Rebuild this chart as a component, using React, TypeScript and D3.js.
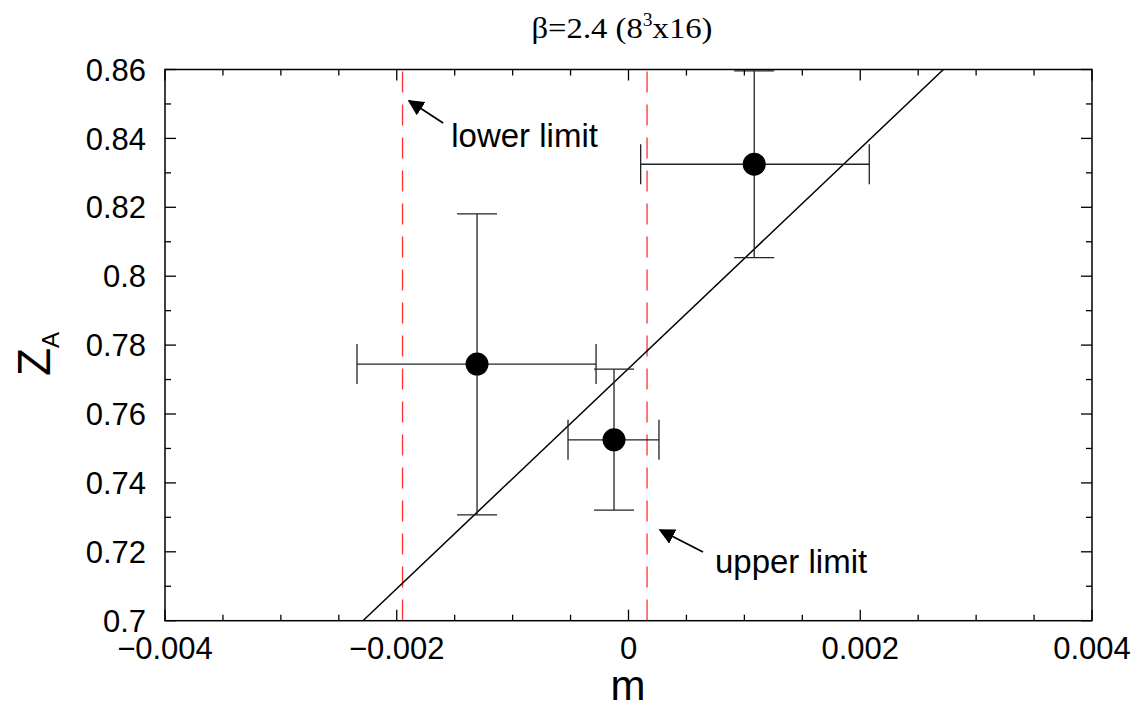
import React from "react";
import * as d3 from "d3";

const pointsX = [-0.001307, -0.000125, 0.001085];
const pointsY = [0.7745, 0.7525, 0.8325];
const xErrLow = [-0.002343, -0.000522, 0.000105];
const xErrHigh = [-0.00028, 0.000263, 0.002078];
const yErrLow = [0.7307, 0.7321, 0.8054];
const yErrHigh = [0.8181, 0.773, 0.8596];

const fitSlope = 31.94;
const fitIntercept = 0.7732;

const limitNames = ["lower limit", "upper limit"];
const limitX = [-0.00195, 0.00016];
const arrowTailX = [-0.0016, 0.000643];
const arrowTailY = [0.8445, 0.71994];
const arrowTipX = [-0.001894, 0.000272];
const arrowTipY = [0.8509, 0.72633];
const labelX = [-0.00153, 0.000746];
const labelY = [0.8374, 0.71385];

const xTickLabels = [-0.004, -0.002, 0, 0.002, 0.004];
const yTickLabels = [0.7, 0.72, 0.74, 0.76, 0.78, 0.8, 0.82, 0.84, 0.86];

const W = 1141;
const H = 707;
const L = 165, R = 1092, T = 69.5, B = 620.7;

export default function App() {
  const x = d3.scaleLinear().domain([-0.004, 0.004]).range([L, R]);
  const y = d3.scaleLinear().domain([0.7, 0.86]).range([B, T]);
  const sans = "'Liberation Sans', Arial, Helvetica, sans-serif";

  const xMinor = d3.range(-0.004, 0.00401, 0.0005);
  const yMinor = d3.range(0.7, 0.8601, 0.01);
  const isMajorX = (v: number) => Math.abs(Math.round(v / 0.002) * 0.002 - v) < 1e-7;
  const isMajorY = (v: number) => Math.abs(Math.round(v / 0.02) * 0.02 - v) < 1e-6;

  const fmtX = (v: number) => (Math.abs(v) < 1e-9 ? "0" : (v < 0 ? "\u2212" : "") + Math.abs(v).toFixed(3));
  const fmtY = (v: number) => {
    const s = v.toFixed(2);
    return s.endsWith("0") ? s.replace(/0$/, "").replace(/\.$/, "") : s;
  };

  const fitLine = d3.line<number>()
    .x((yy) => x((yy - fitIntercept) / fitSlope))
    .y((yy) => y(yy));

  const capHalf = 20;
  const eb = "#222";

  return (
    <svg width={W} height={H} style={{ position: "absolute", left: 0, top: 0, background: "#fff" }}>
      <defs>
        <marker id="arr" viewBox="0 0 10 10" refX="9" refY="5" markerWidth="16" markerHeight="16" markerUnits="userSpaceOnUse" orient="auto">
          <path d="M0,0 L10,5 L0,10 Z" fill="#000" />
        </marker>
        <clipPath id="plot">
          <rect x={L} y={T} width={R - L} height={B - T} />
        </clipPath>
      </defs>

      {/* title */}
      <text x={622} y={38} textAnchor="middle" fontFamily="'Liberation Serif', 'Times New Roman', serif" fontSize={30} textLength={181} lengthAdjust="spacingAndGlyphs">
        β=2.4 (8<tspan dy={-12} fontSize={18}>3</tspan><tspan dy={12}>x16)</tspan>
      </text>

      {/* red dashed limits */}
      {limitX.map((v, i) => (
        <line key={"lim" + i} x1={x(v)} x2={x(v)} y1={T} y2={B} stroke="#ff3030" strokeWidth={1.3} strokeDasharray="21,12" strokeDashoffset={-2} />
      ))}

      {/* fit line */}
      <path d={fitLine([0.7, 0.86]) || ""} stroke="#000" strokeWidth={1.5} fill="none" clipPath="url(#plot)" />

      {/* error bars */}
      {pointsX.map((px, i) => (
        <g key={"eb" + i} stroke={eb} strokeWidth={1.3}>
          <line x1={x(xErrLow[i])} x2={x(xErrHigh[i])} y1={y(pointsY[i])} y2={y(pointsY[i])} />
          <line x1={x(xErrLow[i])} x2={x(xErrLow[i])} y1={y(pointsY[i]) - capHalf} y2={y(pointsY[i]) + capHalf} />
          <line x1={x(xErrHigh[i])} x2={x(xErrHigh[i])} y1={y(pointsY[i]) - capHalf} y2={y(pointsY[i]) + capHalf} />
          <line x1={x(px)} x2={x(px)} y1={y(yErrLow[i])} y2={y(yErrHigh[i])} />
          <line x1={x(px) - capHalf} x2={x(px) + capHalf} y1={y(yErrLow[i])} y2={y(yErrLow[i])} />
          <line x1={x(px) - capHalf} x2={x(px) + capHalf} y1={y(yErrHigh[i])} y2={y(yErrHigh[i])} />
        </g>
      ))}
      {pointsX.map((px, i) => (
        <circle key={"pt" + i} cx={x(px)} cy={y(pointsY[i])} r={11.5} fill="#000" />
      ))}

      {/* annotations */}
      {limitNames.map((name, i) => (
        <g key={"ann" + i}>
          <line x1={x(arrowTailX[i])} y1={y(arrowTailY[i])} x2={x(arrowTipX[i])} y2={y(arrowTipY[i])} stroke="#000" strokeWidth={1.8} markerEnd="url(#arr)" />
          <text x={x(labelX[i])} y={y(labelY[i])} fontFamily={sans} fontSize={33}>{name}</text>
        </g>
      ))}

      {/* frame */}
      <rect x={L} y={T} width={R - L} height={B - T} fill="none" stroke="#000" strokeWidth={1.5} />

      {/* x ticks */}
      {xMinor.map((v, i) => {
        const len = isMajorX(v) ? 11 : 6;
        return (
          <g key={"xt" + i} stroke="#000" strokeWidth={1.3}>
            <line x1={x(v)} x2={x(v)} y1={B} y2={B - len} />
            <line x1={x(v)} x2={x(v)} y1={T} y2={T + len} />
          </g>
        );
      })}
      {/* y ticks */}
      {yMinor.map((v, i) => {
        const len = isMajorY(v) ? 11 : 6;
        return (
          <g key={"yt" + i} stroke="#000" strokeWidth={1.3}>
            <line x1={L} x2={L + len} y1={y(v)} y2={y(v)} />
            <line x1={R} x2={R - len} y1={y(v)} y2={y(v)} />
          </g>
        );
      })}

      {/* tick labels */}
      {xTickLabels.map((v, i) => (
        <text key={"xl" + i} x={x(v)} y={659} textAnchor="middle" fontFamily={sans} fontSize={31}>{fmtX(v)}</text>
      ))}
      {yTickLabels.map((v, i) => (
        <text key={"yl" + i} x={146} y={y(v)} dy="0.36em" textAnchor="end" fontFamily={sans} fontSize={31}>{fmtY(v)}</text>
      ))}

      {/* axis titles */}
      <text x={628} y={700} textAnchor="middle" fontFamily={sans} fontSize={42}>m</text>
      <text transform="translate(50,376) rotate(-90)" fontFamily={sans} fontSize={46}>
        Z<tspan fontSize={24} dy={9}>A</tspan>
      </text>
    </svg>
  );
}
